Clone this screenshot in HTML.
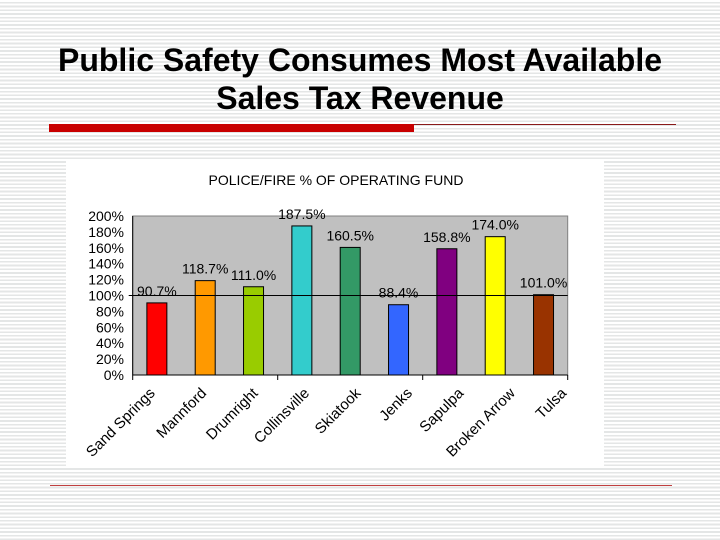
<!DOCTYPE html>
<html><head><meta charset="utf-8"><style>
html,body{margin:0;padding:0}
body{width:720px;height:540px;position:relative;overflow:hidden;font-family:"Liberation Sans",Arial,sans-serif;
background:repeating-linear-gradient(to bottom,#fff 0,#fff 2px,#e4e6e6 2px,#e4e6e6 3.7px)}
</style></head><body>
<svg width="720" height="540" style="position:absolute;left:0;top:0">
<text x="360" y="71" text-anchor="middle" font-size="32" font-weight="bold" fill="#000">Public Safety Consumes Most Available</text>
<text x="360" y="109" text-anchor="middle" font-size="32" font-weight="bold" fill="#000">Sales Tax Revenue</text>
<rect x="49" y="124" width="365" height="8" fill="#c80000"/>
<line x1="414" y1="124.5" x2="676" y2="124.5" stroke="#8a1a1a" stroke-width="1"/>
<line x1="50" y1="485.5" x2="672" y2="485.5" stroke="#c04040" stroke-width="1"/>
<rect x="66" y="161" width="538" height="305" fill="#fff"/>
<text x="336" y="185" text-anchor="middle" font-size="14" fill="#000">POLICE/FIRE % OF OPERATING FUND</text>
<g id="chart"></g>
</svg>
<script>
const categories=["Sand Springs","Mannford","Drumright","Collinsville","Skiatook","Jenks","Sapulpa","Broken Arrow","Tulsa"];
const values=[90.7,118.7,111.0,187.5,160.5,88.4,158.8,174.0,101.0];
const valueLabels=["90.7%","118.7%","111.0%","187.5%","160.5%","88.4%","158.8%","174.0%","101.0%"];
const colors=["#ff0000","#ff9900","#99cc00","#33cccc","#339966","#3366ff","#800080","#ffff00","#993300"];
const yTicks=[0,20,40,60,80,100,120,140,160,180,200];
const refValue=100;
const NS="http://www.w3.org/2000/svg";
const g=document.getElementById('chart');
const L=132.7,R=567.7,T=216,B=375;
const y=v=>B-(v/200)*(B-T);
const cw=(R-L)/categories.length;
const x=i=>L+cw*(i+0.5);
function mk(tag,a){const e=document.createElementNS(NS,tag);for(const k in a)e.setAttribute(k,a[k]);g.appendChild(e);return e;}
let e=mk('rect',{x:L,y:T,width:R-L,height:B-T,fill:'#c0c0c0',stroke:'#808080','stroke-width':1});


yTicks.forEach(t=>{
 const tx=mk('text',{x:124,y:y(t)+5,'text-anchor':'end','font-size':14,fill:'#000'});
 tx.textContent=t+'%';
 
 
});
values.forEach((v,i)=>{
 const b=mk('rect',{x:x(i)-10,y:y(v),width:20,height:B-y(v),fill:colors[i],stroke:'#000','stroke-width':1});
 
 
 const t=mk('text',{x:x(i),y:y(v)-7,'text-anchor':'middle','font-size':14,fill:'#000'});
 t.textContent=valueLabels[i];
 
 
 const lx=x(i)+3.1*i-1, ly=B+19;
 const c=mk('text',{x:lx,y:ly,'text-anchor':'end','font-size':15,fill:'#000',transform:`rotate(-45 ${lx} ${ly})`});
 c.textContent=categories[i];
 
 
});
e=mk('line',{x1:L-4,x2:R,y1:y(refValue),y2:y(refValue),stroke:'#000','stroke-width':1});


e=mk('line',{x1:L,x2:R,y1:B,y2:B,stroke:'#000','stroke-width':1});


e=mk('line',{x1:L,x2:L,y1:T,y2:B,stroke:'#000','stroke-width':1});


[0,3,6,9].forEach(k=>{
 const tk=mk('line',{x1:L+cw*k,x2:L+cw*k,y1:B,y2:B+5,stroke:'#000','stroke-width':1});
 
 
});
</script>
</body></html>
